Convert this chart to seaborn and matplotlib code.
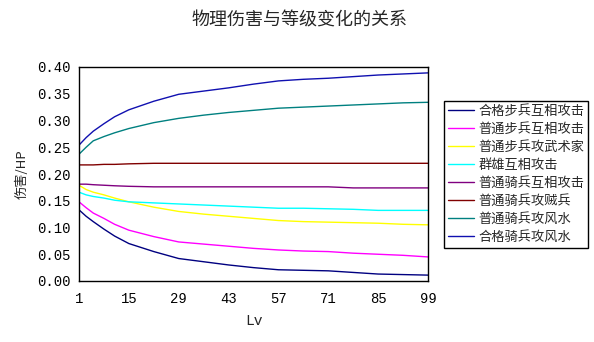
import matplotlib
matplotlib.use("Agg")
import matplotlib.pyplot as plt
import seaborn as sns
import pandas as pd
from matplotlib.ticker import FormatStrFormatter

levels = [1, 3, 5, 8, 11, 15, 22, 29, 36, 43, 50, 57, 64, 71, 78, 85, 92, 99]

series_names = ["合格步兵互相攻击", "普通步兵互相攻击", "普通步兵攻武术家", "群雄互相攻击",
                "普通骑兵互相攻击", "普通骑兵攻贼兵", "普通骑兵攻风水", "合格骑兵攻风水"]

hege_bu = [0.133, 0.121, 0.111, 0.097, 0.084, 0.070, 0.055, 0.042, 0.036, 0.030, 0.025, 0.021, 0.020, 0.019, 0.016, 0.013, 0.012, 0.011]
putong_bu = [0.148, 0.137, 0.127, 0.117, 0.106, 0.095, 0.083, 0.073, 0.069, 0.065, 0.061, 0.058, 0.056, 0.055, 0.052, 0.050, 0.048, 0.045]
bu_wushu = [0.179, 0.171, 0.166, 0.161, 0.155, 0.148, 0.138, 0.130, 0.125, 0.121, 0.117, 0.113, 0.111, 0.110, 0.109, 0.108, 0.106, 0.105]
qunxiong = [0.166, 0.161, 0.158, 0.155, 0.151, 0.148, 0.146, 0.144, 0.142, 0.140, 0.138, 0.136, 0.136, 0.135, 0.134, 0.132, 0.132, 0.132]
qi_huxiang = [0.181, 0.181, 0.180, 0.179, 0.178, 0.177, 0.176, 0.176, 0.176, 0.176, 0.176, 0.176, 0.176, 0.176, 0.174, 0.174, 0.174, 0.174]
qi_zeibing = [0.217, 0.217, 0.217, 0.218, 0.218, 0.219, 0.220, 0.220, 0.220, 0.220, 0.220, 0.220, 0.220, 0.220, 0.220, 0.220, 0.220, 0.220]
qi_fengshui = [0.237, 0.250, 0.262, 0.270, 0.277, 0.285, 0.296, 0.304, 0.310, 0.315, 0.319, 0.323, 0.325, 0.327, 0.329, 0.331, 0.333, 0.334]
hege_qi = [0.254, 0.268, 0.280, 0.294, 0.307, 0.320, 0.336, 0.349, 0.355, 0.361, 0.368, 0.374, 0.377, 0.379, 0.382, 0.385, 0.387, 0.389]

colors = ["#000080", "#FF00FF", "#FFFF00", "#00FFFF", "#800080", "#800000", "#008080", "#1010B0"]

all_vals = [hege_bu, putong_bu, bu_wushu, qunxiong, qi_huxiang, qi_zeibing, qi_fengshui, hege_qi]
rows = []
for name, vals in zip(series_names, all_vals):
    for lv, v in zip(levels, vals):
        rows.append({"Lv": lv, "value": v, "series": name})
df = pd.DataFrame(rows)

sns.set_style("white")
plt.rcParams["font.family"] = ["Noto Sans CJK SC", "DejaVu Sans"]

fig = plt.figure(figsize=(5.94, 3.42), dpi=100)
ax = fig.add_axes([79 / 594, 61 / 342, 349 / 594, 214 / 342])

sns.lineplot(data=df, x="Lv", y="value", hue="series", hue_order=series_names,
             palette=colors, linewidth=1.0, ax=ax, legend=True)

ax.set_xlim(1, 99)
ax.set_ylim(0, 0.40)
xt = [1, 15, 29, 43, 57, 71, 85, 99]
ax.set_xticks(xt)
ax.set_yticks([0, 0.05, 0.10, 0.15, 0.20, 0.25, 0.30, 0.35, 0.40])
ax.yaxis.set_major_formatter(FormatStrFormatter("%.2f"))
ax.tick_params(direction="in", length=5, width=1, colors="black", labelsize=10)
for lab in ax.get_xticklabels() + ax.get_yticklabels():
    lab.set_family(["Liberation Mono", "DejaVu Sans"])
ax.tick_params(axis="x", pad=8)
ax.tick_params(axis="y", pad=6)
for s in ax.spines.values():
    s.set_color("black")
    s.set_linewidth(1.0)

ax.set_xlabel("Lv", fontsize=10.5, labelpad=6)
ax.xaxis.label.set_fontfamily("Liberation Mono")
ax.set_ylabel("伤害/HP", fontsize=9.5, labelpad=6)

fig.suptitle("物理伤害与等级变化的关系", x=0.505, y=0.965, fontsize=13)

handles, labels = ax.get_legend_handles_labels()
ax.legend(handles, labels, loc="upper left", bbox_to_anchor=(444 / 594, 1 - 101 / 342),
          bbox_transform=fig.transFigure, fontsize=9.5, frameon=True, fancybox=False,
          edgecolor="black", framealpha=1, borderpad=0.3, labelspacing=0.38,
          handlelength=2.0, handletextpad=0.3, borderaxespad=0)
leg = ax.get_legend()
leg.get_frame().set_linewidth(1.0)

fig.savefig("out.png", dpi=100)
